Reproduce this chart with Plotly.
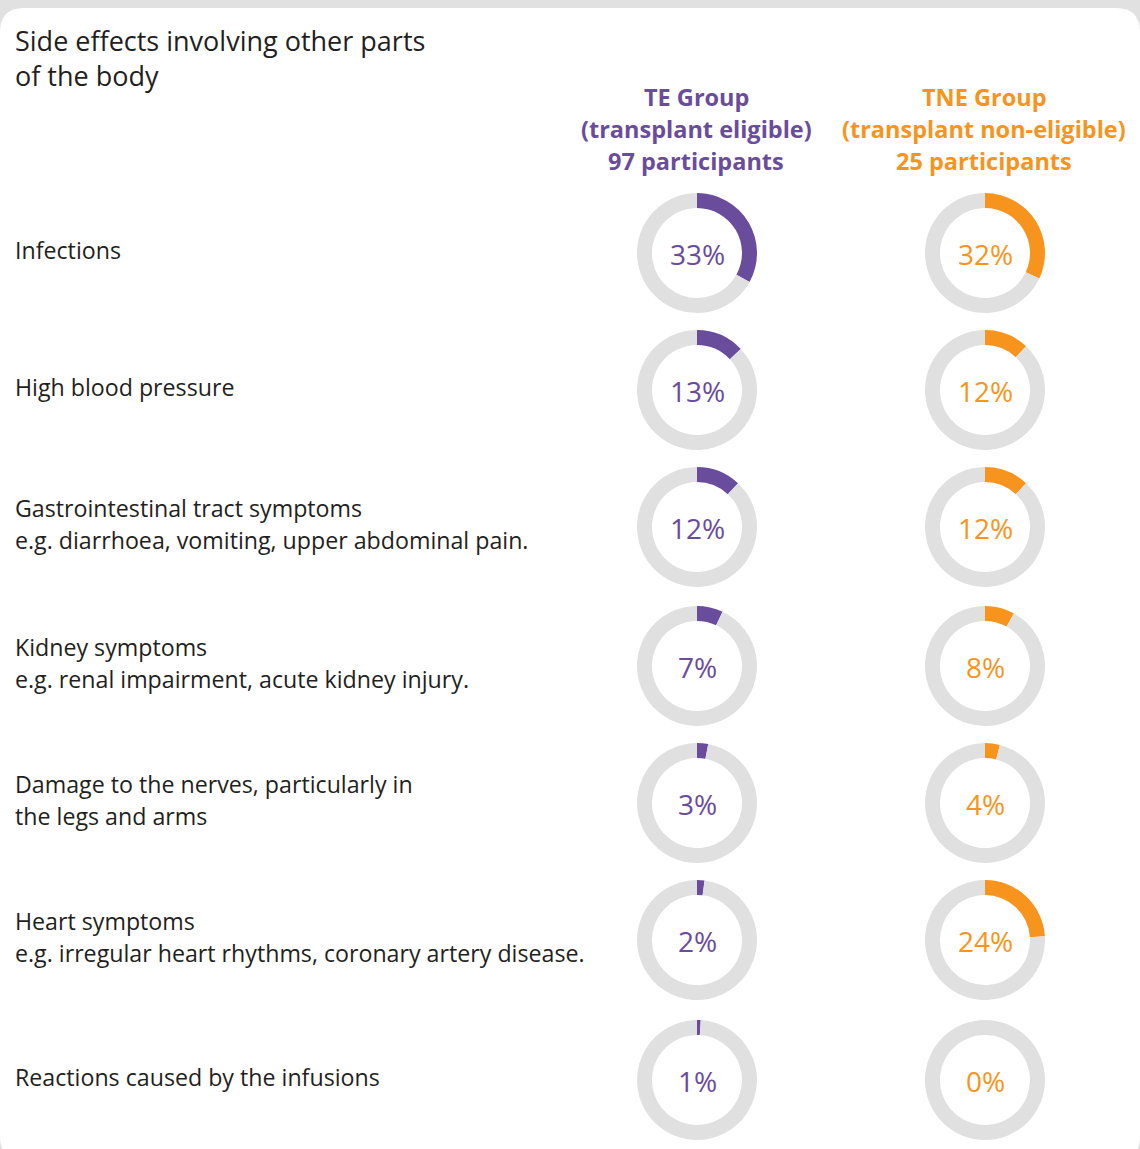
import plotly.graph_objects as go

# ---- data ----
categories = [
    ["Infections"],
    ["High blood pressure"],
    ["Gastrointestinal tract symptoms", "e.g. diarrhoea, vomiting, upper abdominal pain."],
    ["Kidney symptoms", "e.g. renal impairment, acute kidney injury."],
    ["Damage to the nerves, particularly in", "the legs and arms"],
    ["Heart symptoms", "e.g. irregular heart rhythms, coronary artery disease."],
    ["Reactions caused by the infusions"],
]
te_values = [33, 13, 12, 7, 3, 2, 1]
tne_values = [32, 12, 12, 8, 4, 24, 0]
groups = [
    ["TE Group", "(transplant eligible)", "97 participants"],
    ["TNE Group", "(transplant non-eligible)", "25 participants"],
]
title_lines = ["Side effects involving other parts", "of the body"]

# ---- style / layout ----
W, H = 1140, 1149
PURPLE = "#6a4c9c"
ORANGE = "#f7941d"
GRAY = "#e0e0e0"
TEXT = "#231f20"
FONT = "Open Sans"
col_x = [697, 985]
row_y = [253, 390, 527, 666, 803, 940, 1080]
R = 60

fig = go.Figure()

for gi, (vals, color) in enumerate([(te_values, PURPLE), (tne_values, ORANGE)]):
    cx = col_x[gi]
    for ri, v in enumerate(vals):
        cy = row_y[ri]
        fig.add_trace(go.Pie(
            values=[v, 100 - v],
            sort=False,
            direction="clockwise",
            rotation=0,
            hole=0.75,
            marker=dict(colors=[color, GRAY], line=dict(width=0)),
            textinfo="none",
            hoverinfo="skip",
            showlegend=False,
            domain=dict(x=[(cx - R) / W, (cx + R) / W],
                        y=[1 - (cy + R) / H, 1 - (cy - R) / H]),
        ))
        fig.add_annotation(x=cx, y=cy + 1, xref="x", yref="y", text=f"{v}%",
                           showarrow=False, xanchor="center", yanchor="middle",
                           font=dict(family=FONT, size=28, color=color))

# title (single text block, two lines)
fig.add_annotation(x=13, y=58, xref="x", yref="y", text="<br>".join(title_lines),
                   showarrow=False, xanchor="left", yanchor="middle", align="left",
                   font=dict(family=FONT, size=27, color=TEXT))
# group headers
for gi, lines in enumerate(groups):
    color = PURPLE if gi == 0 else ORANGE
    for li, t in enumerate(lines):
        fig.add_annotation(x=col_x[gi] - 1, y=97 + li * 32, xref="x", yref="y",
                           text=f"<b>{t}</b>", showarrow=False,
                           xanchor="center", yanchor="middle",
                           font=dict(family=FONT, size=23.5, color=color))
# category labels
for ri, lines in enumerate(categories):
    n = len(lines)
    for li, t in enumerate(lines):
        y = row_y[ri] - 3 + (li - (n - 1) / 2) * 32
        fig.add_annotation(x=13, y=y, xref="x", yref="y", text=t,
                           showarrow=False, xanchor="left", yanchor="middle",
                           font=dict(family=FONT, size=23.2, color=TEXT))

# white card with rounded corners
r = 24
x0, y0, x1, y1 = 0, 8, 1140, 1160
path = (f"M {x0+r},{y0} L {x1-r},{y0} Q {x1},{y0} {x1},{y0+r} "
        f"L {x1},{y1-r} Q {x1},{y1} {x1-r},{y1} L {x0+r},{y1} "
        f"Q {x0},{y1} {x0},{y1-r} L {x0},{y0+r} Q {x0},{y0} {x0+r},{y0} Z")
fig.add_shape(type="path", path=path, xref="x", yref="y",
              fillcolor="white", line=dict(width=0), layer="below")

fig.update_layout(
    width=W, height=H,
    margin=dict(l=0, r=0, t=0, b=0),
    paper_bgcolor="#e1e1e1",
    plot_bgcolor="rgba(0,0,0,0)",
    xaxis=dict(range=[0, W], visible=False, fixedrange=True),
    yaxis=dict(range=[H, 0], visible=False, fixedrange=True),
)

fig.write_html("out.html", config={"displayModeBar": False},
               post_script="document.body.style.margin='0';document.body.style.overflow='hidden';")
